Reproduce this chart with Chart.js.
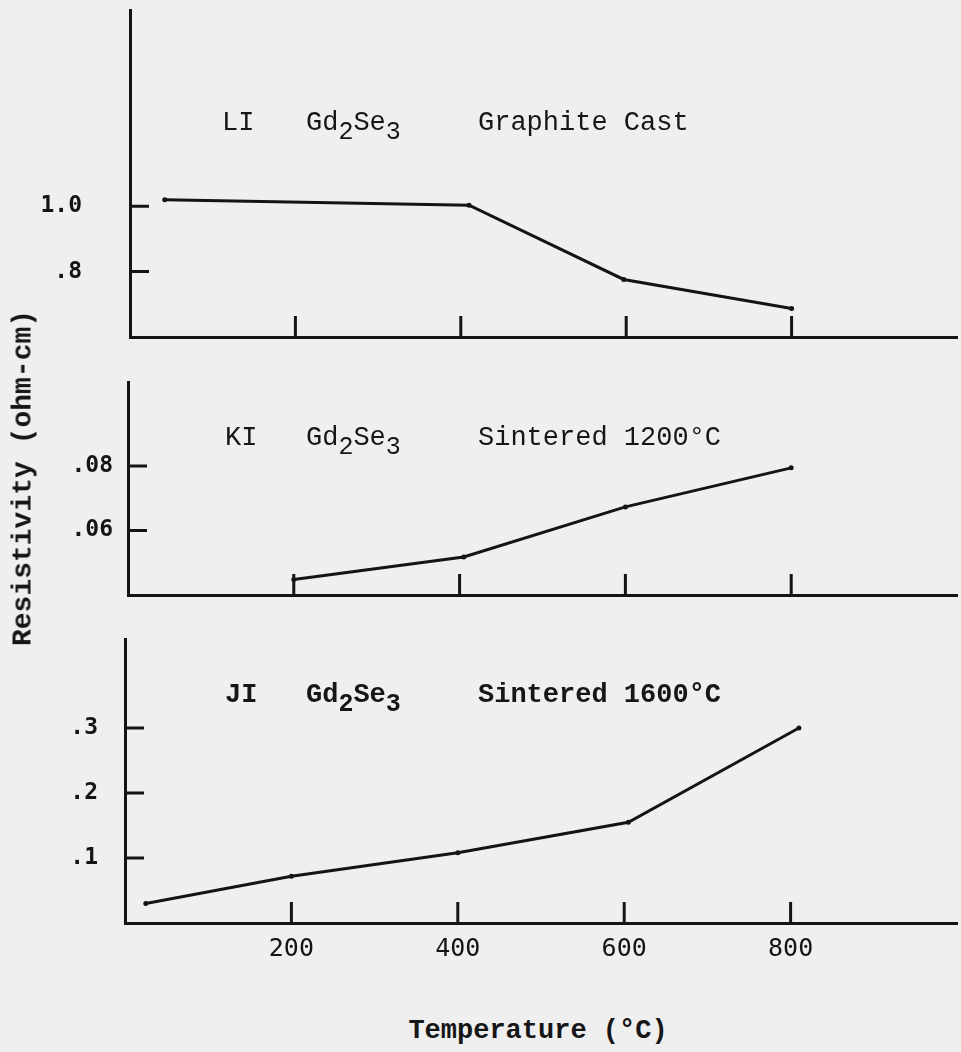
<!DOCTYPE html>
<html>
<head>
<meta charset="utf-8">
<script src="https://cdn.jsdelivr.net/npm/chart.js@4.4.0/dist/chart.umd.min.js"></script>
<style>
  html, body { margin: 0; padding: 0; background: #efefef; }
  body { width: 961px; height: 1052px; position: relative; overflow: hidden; color: #161616; font-family: 'Liberation Mono', 'DejaVu Sans Mono', monospace; }
  canvas { position: absolute; left: 0; }
  .note { position: absolute; font-size: 27px; line-height: 27px; white-space: pre; }
  .note sub { font-size: 25px; vertical-align: -9px; line-height: 0; }
  .bold { font-weight: bold; }
  #ytitle { position: absolute; left: 23px; top: 478px; transform: translate(-50%, -50%) rotate(-90deg); font-size: 28px; font-weight: bold; white-space: nowrap; }
  #xtitle { position: absolute; left: 538px; top: 1031px; transform: translate(-50%, -50%); font-size: 27px; font-weight: bold; white-space: nowrap; }
</style>
</head>
<body>
<canvas id="p1" width="961" height="345" style="top:0px"></canvas>
<canvas id="p2" width="961" height="233" style="top:372px"></canvas>
<canvas id="p3" width="961" height="345" style="top:629px"></canvas>

<div class="note" style="left:222px; top:110px">LI</div>
<div class="note" style="left:306px; top:110px">Gd<sub>2</sub>Se<sub>3</sub></div>
<div class="note" style="left:478px; top:110px">Graphite Cast</div>

<div class="note" style="left:225px; top:425px">KI</div>
<div class="note" style="left:306px; top:425px">Gd<sub>2</sub>Se<sub>3</sub></div>
<div class="note" style="left:478px; top:425px">Sintered 1200°C</div>

<div class="note bold" style="left:225px; top:682px">JI</div>
<div class="note bold" style="left:306px; top:682px">Gd<sub>2</sub>Se<sub>3</sub></div>
<div class="note bold" style="left:478px; top:682px">Sintered 1600°C</div>

<div id="ytitle">Resistivity (ohm-cm)</div>
<div id="xtitle">Temperature (°C)</div>

<script>
// temperature ticks shared by all three panels
const tempTicks = [200, 400, 600, 800];

// LI  Gd2Se3  graphite cast
const tempLI = [42, 410, 597, 800];
const resLI = [1.02, 1.003, 0.776, 0.687];
const yTicksLI = [0.8, 1.0];
const yLabelsLI = ['.8', '1.0'];

// KI  Gd2Se3  sintered 1200C
const tempKI = [200, 405, 600, 800];
const resKI = [0.0448, 0.0518, 0.0673, 0.0794];
const yTicksKI = [0.06, 0.08];
const yLabelsKI = ['.06', '.08'];

// JI  Gd2Se3  sintered 1600C
const tempJI = [25, 200, 400, 605, 810];
const resJI = [0.03, 0.072, 0.108, 0.155, 0.30];
const yTicksJI = [0.1, 0.2, 0.3];
const yLabelsJI = ['.1', '.2', '.3'];

const INK = '#141414';
Chart.defaults.font.family = "'DejaVu Sans Mono', monospace";
Chart.defaults.color = INK;

// tick marks point into the plot, like the hand-drawn original
const innerTicks = {
  id: 'innerTicks',
  afterDatasetsDraw(chart) {
    const { ctx, chartArea, scales: { x, y } } = chart;
    ctx.save();
    ctx.strokeStyle = INK;
    ctx.lineWidth = 3;
    ctx.beginPath();
    x.ticks.forEach(t => {
      const px = x.getPixelForValue(t.value);
      ctx.moveTo(px, chartArea.bottom);
      ctx.lineTo(px, chartArea.bottom - 21);
    });
    y.ticks.forEach(t => {
      const py = y.getPixelForValue(t.value);
      ctx.moveTo(chartArea.left, py);
      ctx.lineTo(chartArea.left + 19, py);
    });
    ctx.stroke();
    ctx.restore();
  }
};

function makePanel(id, temps, values, yMin, yMax, yTicks, yLabels, opts) {
  const ctx = document.getElementById(id).getContext('2d');
  return new Chart(ctx, {
    type: 'line',
    data: {
      datasets: [{
        data: temps.map((t, i) => ({ x: t, y: values[i] })),
        borderColor: INK,
        borderWidth: 3,
        pointRadius: 2.5,
        pointBackgroundColor: INK,
        pointBorderWidth: 0,
        tension: 0,
      }],
    },
    options: {
      responsive: false,
      animation: false,
      layout: { padding: { top: 10, right: 0, left: 0, bottom: 0 } },
      plugins: { legend: { display: false }, tooltip: { enabled: false } },
      scales: {
        x: {
          type: 'linear',
          min: 0,
          max: 1000,
          afterBuildTicks: (scale) => { scale.ticks = tempTicks.map(v => ({ value: v })); },
          afterFit: (scale) => {
            scale.height = opts.xHeight;
            scale.paddingLeft = 0;
            scale.paddingRight = 0;
          },
          grid: { display: false, drawTicks: false },
          border: { display: true, color: INK, width: 3 },
          ticks: {
            display: opts.xLabels,
            padding: 11,
            font: { size: 25 },
            maxRotation: 0,
          },
        },
        y: {
          type: 'linear',
          min: yMin,
          max: yMax,
          afterBuildTicks: (scale) => { scale.ticks = yTicks.map(v => ({ value: v })); },
          afterFit: (scale) => {
            // keep the plot box where the original has it
            scale.width = opts.left;
            scale.paddingTop = 0;
            scale.paddingBottom = 0;
          },
          grid: { display: false, drawTicks: false },
          border: { display: true, color: INK, width: 3 },
          ticks: {
            padding: opts.yPad,
            font: { size: 23, weight: 'bold' },
            callback: (v) => yLabels[yTicks.indexOf(v)] ?? '',
          },
        },
      },
    },
    plugins: [innerTicks],
  });
}

makePanel('p1', tempLI, resLI, 0.6, 1.6, yTicksLI, yLabelsLI, { left: 130, yPad: 48, xHeight: 8, xLabels: false });
makePanel('p2', tempKI, resKI, 0.04, 0.106, yTicksKI, yLabelsKI, { left: 128, yPad: 15, xHeight: 10, xLabels: false });
makePanel('p3', tempJI, resJI, 0, 0.437, yTicksJI, yLabelsJI, { left: 125, yPad: 27, xHeight: 51, xLabels: true });
</script>
</body>
</html>
